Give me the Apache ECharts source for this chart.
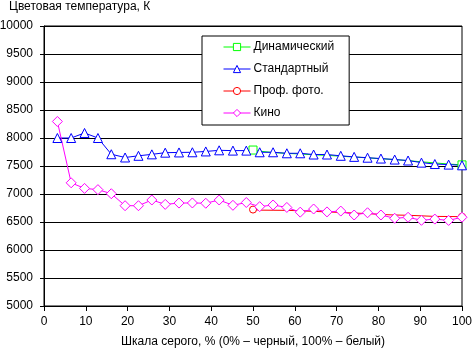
<!DOCTYPE html>
<html><head><meta charset="utf-8">
<script src="https://cdn.jsdelivr.net/npm/echarts@6/dist/echarts.min.js"></script>
<style>html,body{margin:0;padding:0;background:#fff}#c{width:472px;height:349px}</style>
</head><body><div id="c"></div>
<script>
// Grey level positions (%)
var xSteps = [3.2, 6.5, 9.7, 12.9, 16.1, 19.4, 22.6, 25.8, 29.0, 32.3, 35.5, 38.7, 41.9, 45.2, 48.4, 51.6, 54.8, 58.1, 61.3, 64.5, 67.7, 71.0, 74.2, 77.4, 80.6, 83.9, 87.1, 90.3, 93.5, 96.8, 100];
var standardValues = [8000, 8000, 8090, 8000, 7710, 7652, 7682, 7708, 7738, 7742, 7745, 7760, 7780, 7775, 7775, 7745, 7745, 7727, 7727, 7705, 7705, 7682, 7663, 7648, 7633, 7615, 7598, 7560, 7535, 7525, 7512];
var cinemaValues = [8295, 7200, 7100, 7078, 7005, 6791, 6791, 6893, 6815, 6838, 6840, 6835, 6893, 6798, 6848, 6774, 6804, 6760, 6676, 6732, 6680, 6695, 6625, 6665, 6625, 6566, 6584, 6530, 6552, 6528, 6585];
var tailSteps = [50, 51.6, 54.8, 58.1, 61.3, 64.5, 67.7, 71.0, 74.2, 77.4, 80.6, 83.9, 87.1, 90.3, 93.5, 96.8, 100];
var dynamicValues = [7785, 7765, 7740, 7725, 7715, 7700, 7690, 7675, 7660, 7645, 7630, 7615, 7595, 7575, 7555, 7535, 7520];
var photoValues = [6722, 6712, 6710, 6708, 6700, 6690, 6680, 6670, 6660, 6650, 6635, 6625, 6620, 6610, 6600, 6598, 6595];
var seriesNames = ['Динамический', 'Стандартный', 'Проф. фото.', 'Кино'];
var yAxisTitle = 'Цветовая температура, К';
var xAxisTitle = 'Шкала серого, % (0% – черный, 100% – белый)';

var FONT = 'Liberation Sans, Arial, sans-serif';
function pairs(xs, ys, endsOnly) {
  return ys.map(function (v, i) {
    var item = { value: [xs[i], v] };
    if (endsOnly && i !== 0 && i !== ys.length - 1) item.symbol = 'none';
    return item;
  });
}
function mk(name, color, symbol, size, data) {
  return {
    name: name, type: 'line', data: data, symbol: symbol, symbolSize: size,
    showAllSymbol: true, animation: false,
    lineStyle: { color: color, width: 1 },
    itemStyle: { color: '#fff', borderColor: color, borderWidth: 1 },
    emphasis: { disabled: true }
  };
}
var chart = echarts.init(document.getElementById('c'), null, { renderer: 'canvas' });
chart.setOption({
  backgroundColor: '#fff',
  textStyle: { fontFamily: FONT },
  title: { text: yAxisTitle, left: 9, top: 1, padding: 0,
    textStyle: { fontFamily: FONT, fontSize: 12, fontWeight: 'normal', color: '#000' } },
  grid: { left: 44, right: 10, top: 26, bottom: 43, show: true, borderColor: '#000', borderWidth: 1,
    containLabel: false, outerBoundsMode: 'none' },
  legend: {
    orient: 'vertical', left: 202, top: 36, padding: [4, 15, 5, 21], itemGap: 8,
    itemWidth: 27, itemHeight: 9, backgroundColor: '#fff', borderColor: '#000', borderWidth: 1,
    borderRadius: 0, itemStyle: { borderWidth: 1 }, lineStyle: { width: 1 },
    textStyle: { fontFamily: FONT, fontSize: 12, color: '#000', lineHeight: 14, padding: [0, 0, 0, -2] },
    data: seriesNames
  },
  xAxis: {
    type: 'value', min: 0, max: 100, interval: 10,
    name: xAxisTitle, nameLocation: 'middle', nameGap: 30,
    nameTextStyle: { fontFamily: FONT, fontSize: 12, color: '#000' },
    axisLine: { lineStyle: { color: '#000', width: 1 } },
    axisTick: { show: true, length: 5, lineStyle: { color: '#000' } },
    axisLabel: { fontFamily: FONT, fontSize: 12, color: '#000', margin: 10 },
    splitLine: { show: false }
  },
  yAxis: {
    type: 'value', min: 5000, max: 10000, interval: 500,
    axisLine: { show: true, lineStyle: { color: '#000', width: 1 } },
    axisTick: { show: true, length: 4, lineStyle: { color: '#000' } },
    axisLabel: { fontFamily: FONT, fontSize: 12, color: '#000', margin: 11,
      formatter: function (v) { return String(v); } },
    splitLine: { show: true, lineStyle: { color: '#000', width: 1 } }
  },
  series: [
    mk(seriesNames[0], '#00ff00', 'rect', 8, pairs(tailSteps, dynamicValues, true)),
    mk(seriesNames[1], '#0000ff', 'triangle', 9, pairs(xSteps, standardValues, false)),
    mk(seriesNames[2], '#ff0000', 'circle', 7, pairs(tailSteps, photoValues, true)),
    mk(seriesNames[3], '#ff00ff', 'diamond', 10, pairs(xSteps, cinemaValues, false))
  ]
});
</script></body></html>
